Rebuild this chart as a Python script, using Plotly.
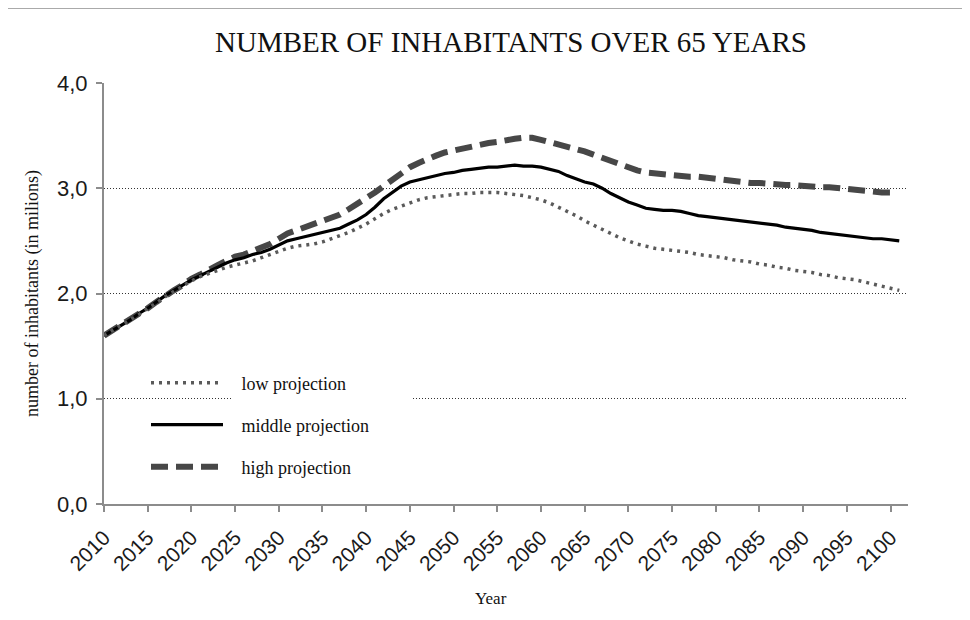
import plotly.graph_objects as go

years = list(range(2010, 2102))

low_projection = [
    1.60, 1.65, 1.70, 1.75, 1.80, 1.86, 1.91, 1.97, 2.02, 2.07,
    2.12, 2.16, 2.19, 2.22, 2.25, 2.27, 2.29, 2.31, 2.34, 2.37,
    2.40, 2.43, 2.45, 2.46, 2.47, 2.49, 2.52, 2.55, 2.58, 2.62,
    2.66, 2.71, 2.76, 2.80, 2.83, 2.86, 2.89, 2.91, 2.92, 2.93,
    2.94, 2.95, 2.95, 2.96, 2.96, 2.96, 2.95, 2.94, 2.93, 2.91,
    2.89, 2.86, 2.82, 2.78, 2.74, 2.69, 2.65, 2.61, 2.57, 2.53,
    2.50, 2.47, 2.45, 2.43, 2.42, 2.41, 2.40, 2.39, 2.37, 2.36,
    2.35, 2.34, 2.32, 2.31, 2.30, 2.28, 2.27, 2.25, 2.24, 2.22,
    2.21, 2.20, 2.18, 2.17, 2.15, 2.14, 2.13, 2.11, 2.09, 2.07,
    2.05, 2.03,
]

middle_projection = [
    1.60, 1.65, 1.70, 1.75, 1.81, 1.86, 1.92, 1.98, 2.03, 2.08,
    2.13, 2.17, 2.21, 2.25, 2.29, 2.32, 2.34, 2.37, 2.39, 2.42,
    2.46, 2.50, 2.52, 2.54, 2.56, 2.58, 2.60, 2.62, 2.66, 2.70,
    2.75, 2.82, 2.90, 2.96, 3.02, 3.06, 3.08, 3.10, 3.12, 3.14,
    3.15, 3.17, 3.18, 3.19, 3.20, 3.20, 3.21, 3.22, 3.21, 3.21,
    3.20, 3.18, 3.16, 3.12, 3.09, 3.06, 3.04, 3.00, 2.95, 2.91,
    2.87, 2.84, 2.81, 2.80, 2.79, 2.79, 2.78, 2.76, 2.74, 2.73,
    2.72, 2.71, 2.70, 2.69, 2.68, 2.67, 2.66, 2.65, 2.63, 2.62,
    2.61, 2.60, 2.58, 2.57, 2.56, 2.55, 2.54, 2.53, 2.52, 2.52,
    2.51, 2.50,
]

high_projection = [
    1.60, 1.65, 1.70, 1.75, 1.81, 1.86, 1.92, 1.98, 2.03, 2.08,
    2.14, 2.18, 2.23, 2.27, 2.31, 2.35, 2.37, 2.40, 2.43, 2.47,
    2.52, 2.57, 2.60, 2.63, 2.65, 2.68, 2.71, 2.75, 2.80, 2.85,
    2.90, 2.96, 3.02, 3.08, 3.14, 3.20, 3.24, 3.28, 3.31, 3.34,
    3.36, 3.38, 3.40, 3.42, 3.43, 3.44, 3.46, 3.47, 3.48, 3.48,
    3.46, 3.44, 3.42, 3.40, 3.38, 3.35, 3.32, 3.29, 3.25, 3.22,
    3.19, 3.17, 3.15, 3.14, 3.13, 3.13, 3.12, 3.11, 3.11, 3.10,
    3.09, 3.07, 3.06, 3.06, 3.05, 3.05, 3.04, 3.04, 3.03, 3.03,
    3.02, 3.02, 3.01, 3.01, 3.00, 3.00, 2.99, 2.98, 2.97, 2.96,
    2.96,
]

x_tick_vals = list(range(2010, 2101, 5))
y_tick_vals = [0, 1, 2, 3, 4]

title_text = "NUMBER OF INHABITANTS OVER 65 YEARS"
y_title = "number of inhabitants (in milions)"
x_title = "Year"
pad = "\u00a0\u00a0\u00a0"

serif = "Liberation Serif, Times New Roman, serif"
sans = "Liberation Sans, Arial, sans-serif"

fig = go.Figure()
fig.add_trace(go.Scatter(
    x=years[:len(high_projection)], y=high_projection, mode="lines",
    name=pad + "high projection", legend="legend3",
    line=dict(color="#474747", width=6, dash="17px,8px"),
))
fig.add_trace(go.Scatter(
    x=years[:len(middle_projection)], y=middle_projection, mode="lines",
    name=pad + "middle projection", legend="legend2",
    line=dict(color="#000000", width=3.2),
))
fig.add_trace(go.Scatter(
    x=years[:len(low_projection)], y=low_projection, mode="lines",
    name=pad + "low projection", legend="legend",
    line=dict(color="#5a5a5a", width=3.5, dash="3px,5px"),
))

# page is offset by the 8px body margin
OFF = 8
W, H = 970 - OFF, 620 - OFF
ml, mt = 104 - OFF, 83 - OFF
plot_right, plot_bottom = 908 - OFF, 504 - OFF
mr, mb = W - plot_right, H - plot_bottom
pw, ph = W - ml - mr, H - mt - mb

def px_x(px):
    return (px - OFF - ml) / pw

def px_y(py):
    return (H - mb - (py - OFF)) / ph

legend_common = dict(
    xanchor="left", yanchor="middle", bgcolor="rgba(0,0,0,0)",
    font=dict(family=serif, size=18, color="#111"),
    itemwidth=72, borderwidth=0, visible=True,
)

fig.update_layout(
    width=W, height=H,
    margin=dict(l=ml, r=mr, t=mt, b=mb),
    paper_bgcolor="white", plot_bgcolor="white",
    separators=",.",
    showlegend=True,
    title=dict(text=title_text, x=px_x(511), xref="paper", xanchor="center",
               y=1 - (42 - OFF) / H, yref="container", yanchor="middle",
               font=dict(family=serif, size=29, color="#111")),
    legend=dict(x=px_x(146), y=px_y(383), **legend_common),
    legend2=dict(x=px_x(146), y=px_y(425), **legend_common),
    legend3=dict(x=px_x(146), y=px_y(467), **legend_common),
    xaxis=dict(
        range=[2010, 2102], tickvals=x_tick_vals, tickangle=-45,
        showgrid=False, zeroline=False,
        showline=True, linecolor="#8c8c8c", linewidth=2,
        ticks="outside", ticklen=6, tickcolor="#8c8c8c", tickwidth=2,
        tickfont=dict(family=sans, size=21, color="#1a1a1a"),
        ticklabelstandoff=5,
    ),
    yaxis=dict(
        range=[0, 4], tickvals=y_tick_vals, tickformat=".1f",
        showgrid=True, gridcolor="#333333", gridwidth=1.4, griddash="1.4px,1.6px",
        zeroline=False,
        showline=True, linecolor="#8c8c8c", linewidth=2,
        ticks="outside", ticklen=6, tickcolor="#8c8c8c", tickwidth=2,
        tickfont=dict(family=sans, size=22, color="#1a1a1a"),
        ticklabelstandoff=4,
        title=dict(text=y_title, font=dict(family=serif, size=18, color="#111"), standoff=14),
    ),
    annotations=[
        dict(text=x_title, xref="paper", yref="paper", x=px_x(491), y=px_y(598),
             xanchor="center", yanchor="middle", showarrow=False,
             font=dict(family=serif, size=17, color="#111")),
    ],
    shapes=[
        dict(type="rect", xref="paper", yref="paper",
             x0=px_x(232), x1=px_x(413), y0=px_y(403), y1=px_y(395),
             fillcolor="white", line=dict(width=0), layer="above"),
        dict(type="line", xref="paper", yref="paper",
             x0=px_x(0), x1=px_x(964), y0=px_y(8), y1=px_y(8),
             line=dict(color="#aaaaaa", width=2)),
        dict(type="line", xref="paper", yref="paper",
             x0=px_x(964), x1=px_x(964), y0=px_y(8), y1=px_y(625),
             line=dict(color="#aaaaaa", width=2)),
    ],
)

fig.write_html("out.html")
